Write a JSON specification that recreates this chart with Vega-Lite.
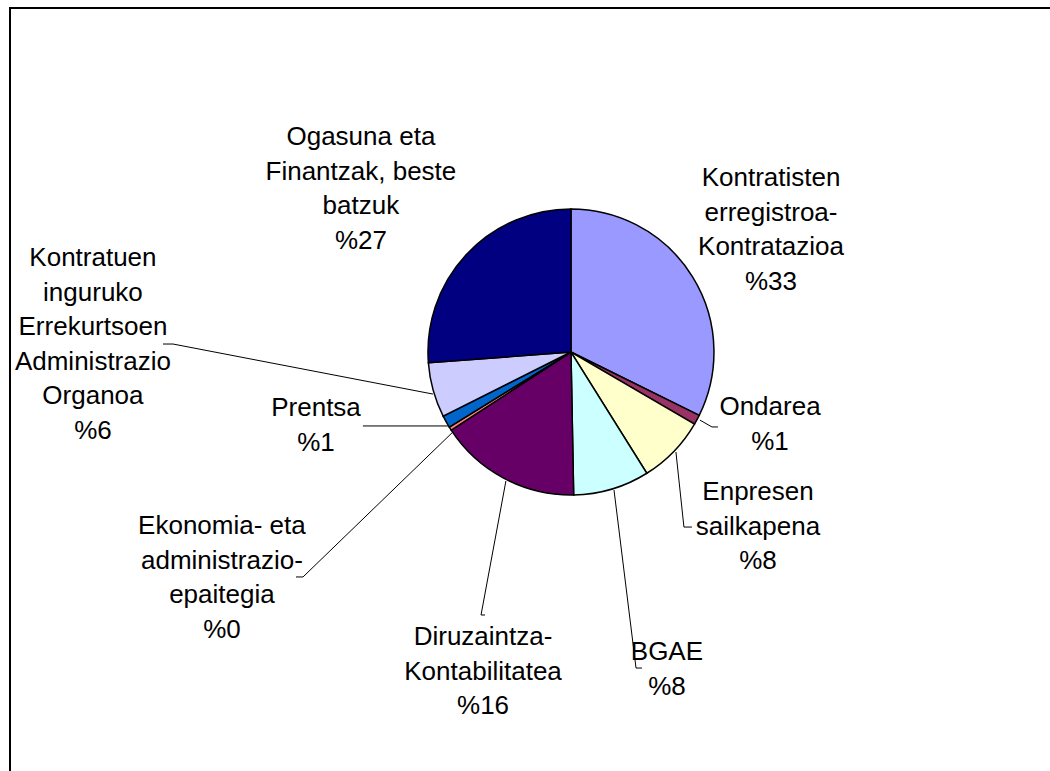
{
  "$schema": "https://vega.github.io/schema/vega-lite/v6.json",
  "width": 1041,
  "height": 763,
  "autosize": {"type": "none"},
  "padding": {"left": 9, "top": 8, "right": 0, "bottom": 0},
  "background": "white",
  "config": {"view": {"stroke": null}},
  "datasets": {
    "slices": [
      {"idx": 1, "name": "Kontratisten erregistroa-Kontratazioa", "value": 32.3},
      {"idx": 2, "name": "Ondarea", "value": 1.1},
      {"idx": 3, "name": "Enpresen sailkapena", "value": 7.7},
      {"idx": 4, "name": "BGAE", "value": 8.6},
      {"idx": 5, "name": "Diruzaintza-Kontabilitatea", "value": 16.1},
      {"idx": 6, "name": "Ekonomia- eta administrazio-epaitegia", "value": 0.4},
      {"idx": 7, "name": "Prentsa", "value": 1.4},
      {"idx": 8, "name": "Kontratuen inguruko Errekurtsoen Administrazio Organoa", "value": 6.2},
      {"idx": 9, "name": "Ogasuna eta Finantzak, beste batzuk", "value": 26.2}
    ],
    "labels": [
      {"name": "Kontratisten erregistroa-Kontratazioa", "label": "Kontratisten\nerregistroa-\nKontratazioa\n%33", "lx": 139.9, "ly": 121.7},
      {"name": "Ondarea", "label": "Ondarea\n%1", "lx": 139.2, "ly": -38.5},
      {"name": "Enpresen sailkapena", "label": "Enpresen\nsailkapena\n%8", "lx": 130.8, "ly": -97.9},
      {"name": "BGAE", "label": "BGAE\n%8", "lx": 67.1, "ly": -209.8},
      {"name": "Diruzaintza-Kontabilitatea", "label": "Diruzaintza-\nKontabilitatea\n%16", "lx": -61.5, "ly": -199.3},
      {"name": "Ekonomia- eta administrazio-epaitegia", "label": "Ekonomia- eta\nadministrazio-\nepaitegia\n%0", "lx": -244.1, "ly": -121.7},
      {"name": "Prentsa", "label": "Prentsa\n%1", "lx": -178.3, "ly": -39.2},
      {"name": "Kontratuen inguruko Errekurtsoen Administrazio Organoa", "label": "Kontratuen\ninguruko\nErrekurtsoen\nAdministrazio\nOrganoa\n%6", "lx": -334.3, "ly": 65.7},
      {"name": "Ogasuna eta Finantzak, beste batzuk", "label": "Ogasuna eta\nFinantzak, beste\nbatzuk\n%27", "lx": -146.9, "ly": 150.3}
    ],
    "leaders": [
      {"name": "Ondarea", "seq": 1, "px": 90.2, "py": -47.6},
      {"name": "Ondarea", "seq": 2, "px": 98.6, "py": -52.4},
      {"name": "Ondarea", "seq": 3, "px": 102.8, "py": -52.4},
      {"name": "Enpresen", "seq": 1, "px": 73.4, "py": -69.9},
      {"name": "Enpresen", "seq": 2, "px": 79.0, "py": -122.4},
      {"name": "Enpresen", "seq": 3, "px": 84.6, "py": -122.4},
      {"name": "BGAE", "seq": 1, "px": 30.1, "py": -96.5},
      {"name": "BGAE", "seq": 2, "px": 45.5, "py": -221.0},
      {"name": "BGAE", "seq": 3, "px": 49.7, "py": -221.0},
      {"name": "Diruzaintza", "seq": 1, "px": -45.5, "py": -90.2},
      {"name": "Diruzaintza", "seq": 2, "px": -62.9, "py": -183.9},
      {"name": "Diruzaintza", "seq": 3, "px": -60.1, "py": -183.9},
      {"name": "Ekonomia", "seq": 1, "px": -81.1, "py": -54.5},
      {"name": "Ekonomia", "seq": 2, "px": -187.4, "py": -157.3},
      {"name": "Ekonomia", "seq": 3, "px": -192.3, "py": -157.3},
      {"name": "Prentsa", "seq": 1, "px": -84.6, "py": -51.7},
      {"name": "Prentsa", "seq": 2, "px": -145.5, "py": -51.7},
      {"name": "Kontratuen", "seq": 1, "px": -96.5, "py": -29.4},
      {"name": "Kontratuen", "seq": 2, "px": -278.3, "py": 5.6},
      {"name": "Kontratuen", "seq": 3, "px": -285.3, "py": 5.6}
    ]
  },
  "layer": [
    {
      "data": {"values": [{}]},
      "mark": {"type": "rule", "color": "#000000", "strokeWidth": 2},
      "encoding": {
        "x": {"datum": -392.3, "type": "quantitative", "scale": {"domain": [-393.0, 335.0], "nice": false, "zero": false}, "axis": null}
      }
    },
    {
      "data": {"values": [{}]},
      "mark": {"type": "rule", "color": "#000000", "strokeWidth": 2},
      "encoding": {
        "y": {"datum": 240.6, "type": "quantitative", "scale": {"domain": [-293.0, 240.6], "nice": false, "zero": false}, "axis": null}
      }
    },
    {
      "data": {"name": "leaders"},
      "mark": {"type": "line", "color": "#000000", "strokeWidth": 1},
      "encoding": {
        "x": {"field": "px", "type": "quantitative", "scale": {"domain": [-393.0, 335.0], "nice": false, "zero": false}, "axis": null},
        "y": {"field": "py", "type": "quantitative", "scale": {"domain": [-293.0, 240.6], "nice": false, "zero": false}, "axis": null},
        "detail": {"field": "name", "type": "nominal"},
        "order": {"field": "seq", "type": "quantitative"}
      }
    },
    {
      "data": {"name": "slices"},
      "mark": {"type": "arc", "outerRadius": 143, "stroke": "#000000", "strokeWidth": 1.5},
      "encoding": {
        "x": {"datum": 0, "type": "quantitative", "scale": {"domain": [-393.0, 335.0], "nice": false, "zero": false}, "axis": null},
        "y": {"datum": 0, "type": "quantitative", "scale": {"domain": [-293.0, 240.6], "nice": false, "zero": false}, "axis": null},
        "theta": {"field": "value", "type": "quantitative", "stack": true},
        "order": {"field": "idx", "type": "quantitative"},
        "color": {
          "field": "name",
          "type": "nominal",
          "legend": null,
          "scale": {
            "domain": [
              "Kontratisten erregistroa-Kontratazioa",
              "Ondarea",
              "Enpresen sailkapena",
              "BGAE",
              "Diruzaintza-Kontabilitatea",
              "Ekonomia- eta administrazio-epaitegia",
              "Prentsa",
              "Kontratuen inguruko Errekurtsoen Administrazio Organoa",
              "Ogasuna eta Finantzak, beste batzuk"
            ],
            "range": ["#9999FF", "#993366", "#FFFFCC", "#CCFFFF", "#660066", "#FF8080", "#0066CC", "#CCCCFF", "#000080"]
          }
        }
      }
    },
    {
      "data": {"name": "labels"},
      "mark": {"type": "text", "align": "center", "baseline": "middle", "fontSize": 26, "lineHeight": 34.5, "font": "Liberation Sans", "lineBreak": "\n", "color": "#000000"},
      "encoding": {
        "x": {"field": "lx", "type": "quantitative", "scale": {"domain": [-393.0, 335.0], "nice": false, "zero": false}, "axis": null},
        "y": {"field": "ly", "type": "quantitative", "scale": {"domain": [-293.0, 240.6], "nice": false, "zero": false}, "axis": null},
        "text": {"field": "label", "type": "nominal"}
      }
    }
  ]
}
